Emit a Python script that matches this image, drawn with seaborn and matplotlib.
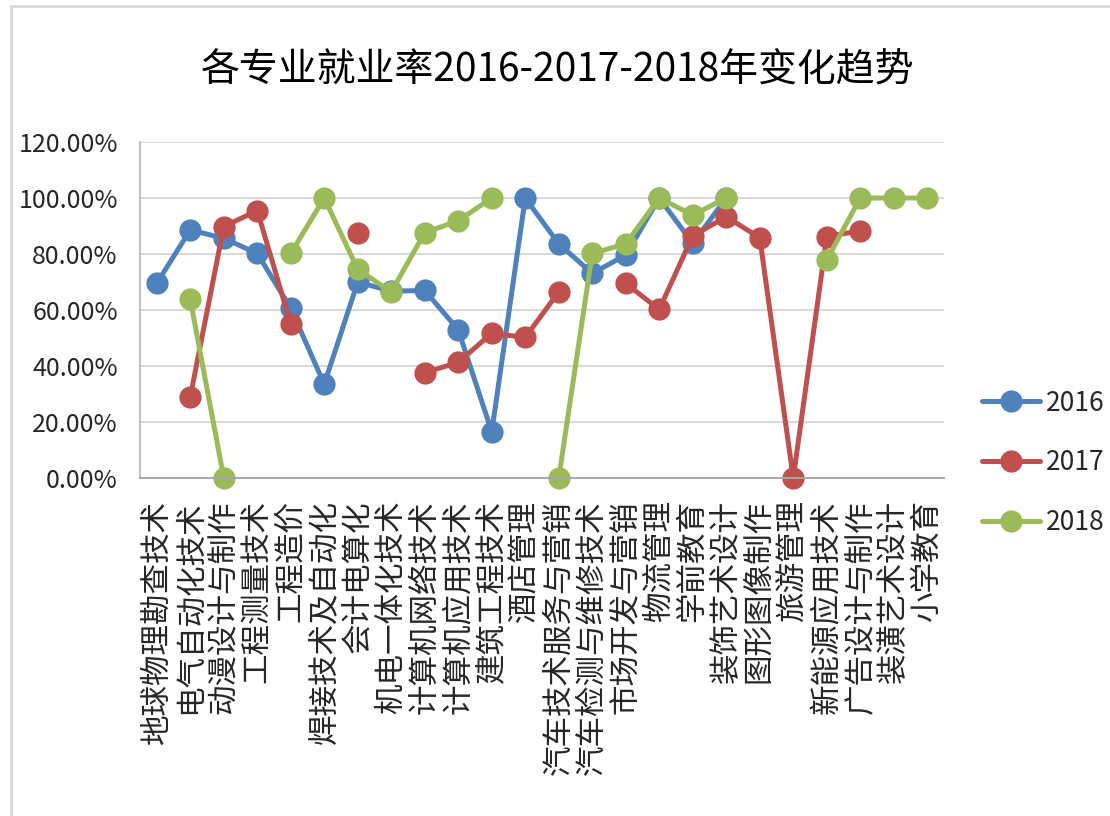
import numpy as np
import pandas as pd
import seaborn as sns
import matplotlib.pyplot as plt
from matplotlib.ticker import PercentFormatter
from matplotlib.lines import Line2D
from matplotlib.patches import Rectangle

title = "各专业就业率2016-2017-2018年变化趋势"

categories = [
    "地球物理勘查技术", "电气自动化技术", "动漫设计与制作", "工程测量技术",
    "工程造价", "焊接技术及自动化", "会计电算化", "机电一体化技术",
    "计算机网络技术", "计算机应用技术", "建筑工程技术", "酒店管理",
    "汽车技术服务与营销", "汽车检测与维修技术", "市场开发与营销", "物流管理",
    "学前教育", "装饰艺术设计", "图形图像制作", "旅游管理",
    "新能源应用技术", "广告设计与制作", "装潢艺术设计", "小学教育",
]

years = ["2016", "2017", "2018"]

rate_2016 = [69.5, 88.6, 85.6, 80.2, 60.6, 33.5, 70.0, 66.7, 67.0, 52.9, 16.5, 100.0,
             83.6, 73.1, 79.6, 100.0, 83.8, 100.0, None, None, None, None, None, None]
rate_2017 = [None, 29.0, 89.8, 95.5, 55.0, None, 87.6, None, 37.6, 41.3, 51.7, 50.2,
             66.5, None, 69.5, 60.2, 86.5, 93.3, 85.8, 0.0, 86.2, 88.3, None, None]
rate_2018 = [None, 63.8, 0.0, None, 80.2, 100.0, 74.5, 66.5, 87.6, 91.9, 100.0, None,
             0.0, 80.2, 83.6, 100.0, 93.9, 100.0, None, None, 77.9, 100.0, 100.0, 100.0]

y_ticks = [0, 20, 40, 60, 80, 100, 120]

colors = {"2016": "#4F81BD", "2017": "#C0504D", "2018": "#9BBB59"}

# long-form table; missing values split each series into separate segments
rows = []
for year, vals in zip(years, [rate_2016, rate_2017, rate_2018]):
    seg = 0
    for i, v in enumerate(vals):
        if v is None:
            seg += 1
            continue
        rows.append({"x": i, "rate": v, "year": year, "seg": f"{year}-{seg}"})
df = pd.DataFrame(rows)

sns.set_theme(style="white")
plt.rcParams['font.family'] = ['Noto Sans CJK SC', 'DejaVu Sans']

fig = plt.figure(figsize=(11.1, 8.16), dpi=100)

# outer chart frame
fig.patches.append(Rectangle((11 / 1110, -0.1), 1.2, (1 - 6 / 816) + 0.1,
                             transform=fig.transFigure, fill=False,
                             edgecolor="#D9D9D9", linewidth=2.0, zorder=0))

ax = fig.add_axes([140 / 1110, 1 - 478 / 816, 804 / 1110, 336 / 816])

sns.lineplot(data=df, x="x", y="rate", hue="year", hue_order=years,
             units="seg", estimator=None, sort=False, palette=colors,
             marker="o", markersize=16, markeredgewidth=0, linewidth=3.6,
             legend=False, clip_on=False, ax=ax)

ax.set_xlim(-0.5, len(categories) - 0.5)
ax.set_ylim(0, 120)
ax.set_yticks(y_ticks)
ax.yaxis.set_major_formatter(PercentFormatter(decimals=2))
ax.set_xticks(range(len(categories)))
ax.set_xticklabels(categories, rotation=90, fontsize=22, va="top", ha="center")
ax.tick_params(axis="x", length=0, pad=16)
ax.tick_params(axis="y", length=0, pad=16, labelsize=18)
ax.set_xlabel("")
ax.set_ylabel("")

ax.grid(axis="y", color="#D9D9D9", linewidth=1.4)
ax.set_axisbelow(True)
for s in ["top", "right"]:
    ax.spines[s].set_visible(False)
ax.spines["left"].set_color("#BFBFBF")
ax.spines["left"].set_linewidth(1.4)
ax.spines["bottom"].set_color("#A6A6A6")
ax.spines["bottom"].set_linewidth(1.4)

fig.text(558 / 1110, 1 - 70 / 816, title, ha="center", va="center",
         fontsize=28, color="#000000")

handles = [Line2D([0], [0], color=colors[y], linewidth=3.6, marker="o",
                  markersize=16, markeredgewidth=0) for y in years]
fig.legend(handles, years, loc="center left",
           bbox_to_anchor=(958 / 1110, 1 - 463 / 816), frameon=False,
           fontsize=19, labelspacing=1.25, handlelength=2.2, handletextpad=0.25)

fig.savefig("out.png", dpi=100)
